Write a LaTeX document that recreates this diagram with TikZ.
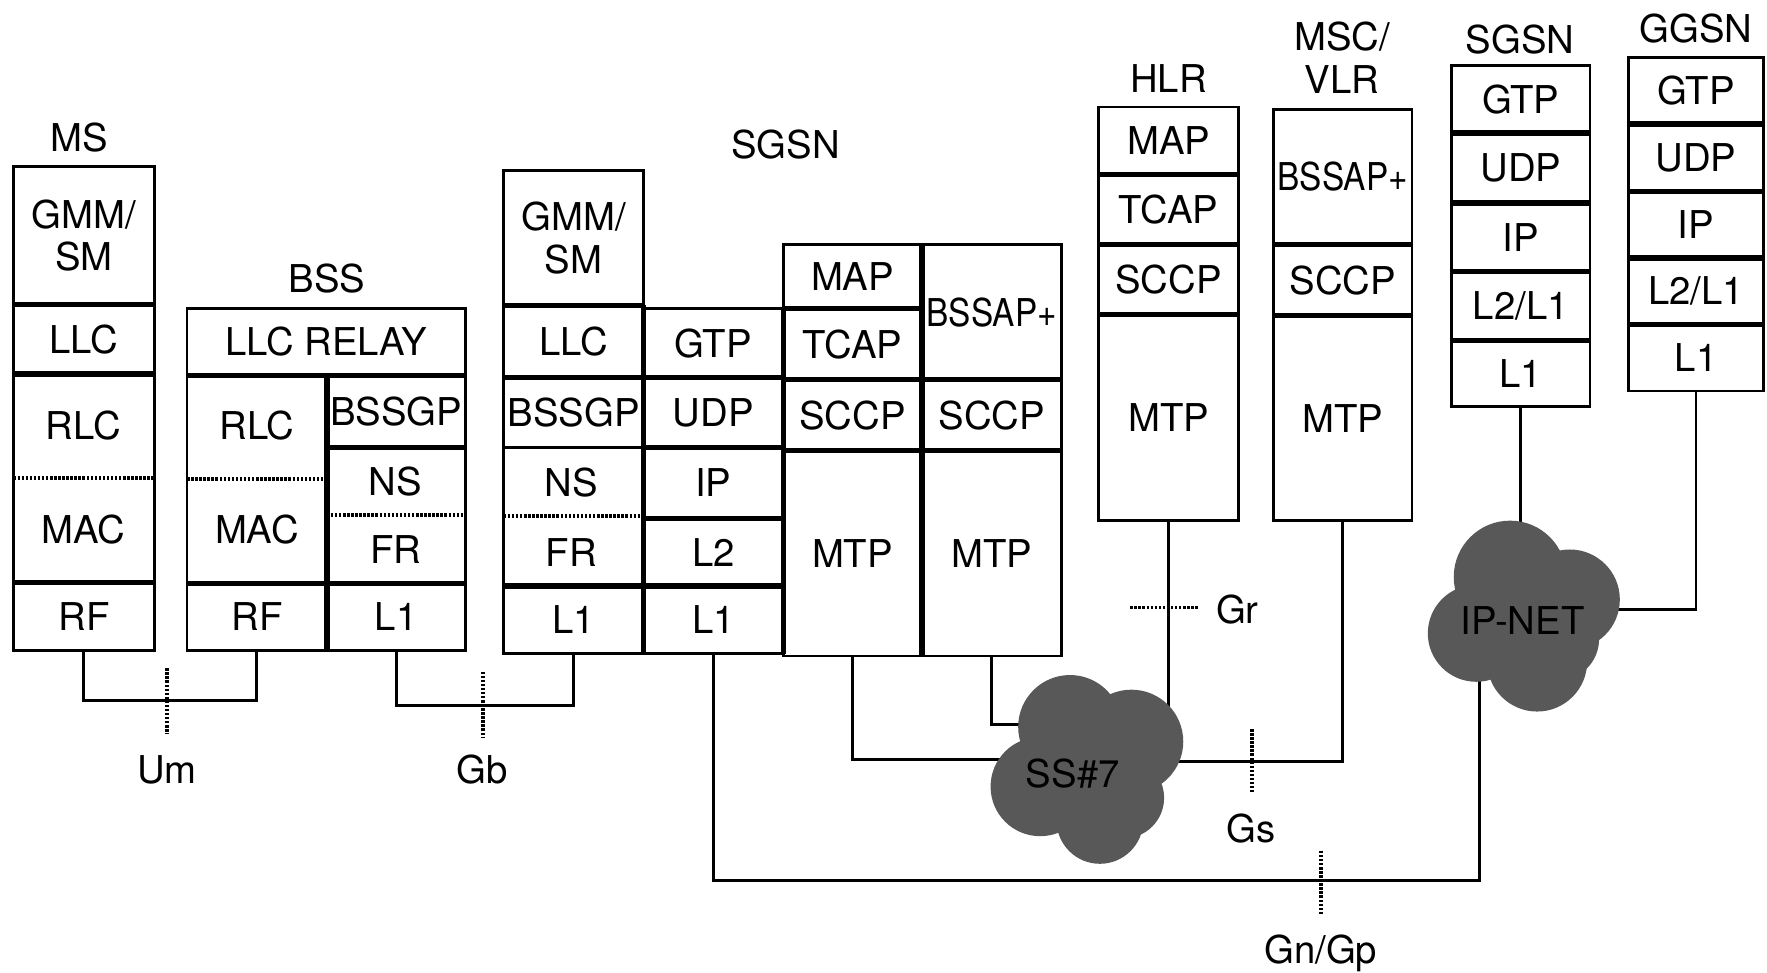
\documentclass[tikz,border=0pt]{standalone}
\usepackage{fontspec}
\setmainfont{TeX Gyre Heros}
\usetikzlibrary{calc}
\pgfdeclarelayer{bg}
\pgfdeclarelayer{cloudlayer}
\pgfsetlayers{bg,cloudlayer,main}
\definecolor{cloudgray}{RGB}{88,88,88}
\tikzset{
  cellbox/.style={draw, line width=1.2pt, inner sep=0pt, outer sep=0pt, align=center, font=\fontsize{17}{19}\selectfont},
  txt/.style={inner sep=0pt, outer sep=0pt, font=\fontsize{17}{19}\selectfont, align=center},
  sepline/.style={line width=2.4pt},
  divider/.style={line width=1.6pt, dash pattern=on 1.1pt off 0.7pt},
  conn/.style={line width=1.3pt},
  ticksty/.style={line width=1.6pt, dash pattern=on 1.1pt off 0.7pt},
  cloudfill/.style={fill=cloudgray},
}
\newcommand{\lcell}[6]{%
  \pgfmathsetmacro{\lcw}{(#4-#2)*0.5}%
  \pgfmathsetmacro{\lch}{(#5-#3)*0.5}%
  \node[cellbox, minimum width=\lcw pt, minimum height=\lch pt] (#1) at ({(#2+#4)/2},{(#3+#5)/2}) {#6};%
}
\newcommand{\sepN}[1]{\draw[sepline] (#1.north west) -- (#1.north east);}
\begin{document}
\begin{tikzpicture}[x=0.5pt,y=-0.5pt]
\useasboundingbox (0,0) rectangle (1568,863);

% ---------- MS ----------
\node[txt] (mslab) at (70,122) {MS};
\lcell{msgmm}{12}{148}{137}{270}{GMM/\\SM}
\lcell{msllc}{12}{270}{137}{332}{LLC}
\lcell{msrm}{12}{332}{137}{517}{}
\lcell{msrf}{12}{517}{137}{577}{RF}
\node[txt] (msrlc) at (74,378) {RLC};
\node[txt] (msmac) at (74,470) {MAC};
\draw[divider] (12,424) -- (137,424);
\sepN{msllc}\sepN{msrm}\sepN{msrf}

% ---------- BSS ----------
\node[txt] (bsslab) at (290,247) {BSS};
\lcell{bssrelay}{166}{274}{413}{333}{LLC RELAY}
\lcell{bssrm}{166}{333}{290}{518}{}
\lcell{bssgp}{290}{333}{413}{397}{BSSGP}
\lcell{bssnf}{290}{397}{413}{518}{}
\lcell{bssrf}{166}{518}{290}{577}{RF}
\lcell{bssl1}{290}{518}{413}{577}{L1}
\node[txt] (bssrlc) at (228,378) {RLC};
\node[txt] (bssmac) at (228,470) {MAC};
\node[txt] (bssns) at (351,427) {NS};
\node[txt] (bssfr) at (351,488) {FR};
\draw[divider] (166,425) -- (290,425);
\draw[divider] (290,457) -- (413,457);
\draw[sepline] (bssrm.north west) -- (bssgp.north east);
\sepN{bssnf}
\draw[sepline] (bssrf.north west) -- (bssl1.north east);
\draw[sepline] (bssgp.north west) -- (bssl1.south west);

% ---------- SGSN (main) ----------
\node[txt] (sglab) at (697,128) {SGSN};
\lcell{sgmm}{447}{151}{571}{271}{GMM/\\SM}
\lcell{sgllc}{447}{271}{571}{335}{LLC}
\lcell{sgbssgp}{447}{335}{571}{397}{BSSGP}
\lcell{sgnf}{447}{397}{571}{520}{}
\lcell{sgl1a}{447}{520}{571}{580}{L1}
\node[txt] (sgns) at (507,428) {NS};
\node[txt] (sgfr) at (507,490) {FR};
\draw[divider] (447,458) -- (571,458);
\lcell{sggtp}{571}{274}{695}{335}{GTP}
\lcell{sgudp}{571}{335}{695}{397}{UDP}
\lcell{sgip}{571}{397}{695}{460}{IP}
\lcell{sgl2}{571}{460}{695}{520}{L2}
\lcell{sgl1b}{571}{520}{695}{580}{L1}
\lcell{sgmap}{695}{217}{818}{274}{MAP}
\lcell{sgtcap}{695}{274}{818}{337}{TCAP}
\lcell{sgsccpa}{695}{337}{818}{400}{SCCP}
\lcell{sgmtpa}{695}{400}{818}{582}{MTP}
\lcell{sgbssap}{818}{217}{942}{337}{\scalebox{0.87}[1]{BSSAP+}}
\lcell{sgsccpb}{818}{337}{942}{400}{SCCP}
\lcell{sgmtpb}{818}{400}{942}{582}{MTP}
\sepN{sgllc}\sepN{sgbssgp}\sepN{sgl1a}
\draw[sepline] (447,271) -- (571,271);
\sepN{sgudp}\sepN{sgip}\sepN{sgl2}\sepN{sgl1b}
\sepN{sgtcap}\sepN{sgsccpa}\sepN{sgmtpa}
\sepN{sgsccpb}\sepN{sgmtpb}
\draw[sepline] (sgllc.north east) -- (sgl1a.south east);
\draw[sepline] (sggtp.north east) -- (sgl1b.south east);
\draw[sepline] (sgmap.north east) -- (sgmtpa.south east);

% ---------- HLR ----------
\node[txt] (hlrlab) at (1037,70) {HLR};
\lcell{hmap}{975}{95}{1099}{155}{MAP}
\lcell{htcap}{975}{155}{1099}{217}{TCAP}
\lcell{hsccp}{975}{217}{1099}{279}{SCCP}
\lcell{hmtp}{975}{279}{1099}{462}{MTP}
\sepN{htcap}\sepN{hsccp}\sepN{hmtp}

% ---------- MSC/VLR ----------
\node[txt] (msclab) at (1191,51) {MSC/\\VLR};
\lcell{mbssap}{1130}{97}{1253}{217}{\scalebox{0.87}[1]{BSSAP+}}
\lcell{msccp}{1130}{217}{1253}{280}{SCCP}
\lcell{mmtp}{1130}{280}{1253}{462}{MTP}
\sepN{msccp}\sepN{mmtp}

% ---------- SGSN (right) ----------
\node[txt] (sgrlab) at (1349,35) {SGSN};
\lcell{sgrgtp}{1288}{58}{1411}{118}{GTP}
\lcell{sgrudp}{1288}{118}{1411}{180}{UDP}
\lcell{sgrip}{1288}{180}{1411}{241}{IP}
\lcell{sgrl2}{1288}{241}{1411}{302}{L2/L1}
\lcell{sgrl1}{1288}{302}{1411}{361}{L1}
\sepN{sgrudp}\sepN{sgrip}\sepN{sgrl2}\sepN{sgrl1}

% ---------- GGSN ----------
\node[txt] (gglab) at (1505,25) {GGSN};
\lcell{gggtp}{1445}{51}{1565}{110}{GTP}
\lcell{ggudp}{1445}{110}{1565}{170}{UDP}
\lcell{ggip}{1445}{170}{1565}{229}{IP}
\lcell{ggl2}{1445}{229}{1565}{288}{L2/L1}
\lcell{ggl1}{1445}{288}{1565}{347}{L1}
\sepN{ggudp}\sepN{ggip}\sepN{ggl2}\sepN{ggl1}

% ---------- clouds (text nodes) ----------
\node[txt] (ss7) at (952,686) {SS\#7};
\node[txt] (ipnet) at (1351,551) {IP-NET};
\coordinate (ss7w) at (940,674);
\coordinate (ss7nw) at (940,643);
\coordinate (ss7e) at (1000,676);
\coordinate (ipe) at (1390,541);
\coordinate (gncorner) at (1313,781);
\coordinate (gnend) at (1313,590);

\begin{pgfonlayer}{cloudlayer}
\fill[cloudfill] (949.5,645) circle[radius=23pt];
\fill[cloudfill] (1004,658) circle[radius=23pt];
\fill[cloudfill] (923,698) circle[radius=22pt];
\fill[cloudfill] (976,728) circle[radius=19.25pt];
\fill[cloudfill] (997,708) circle[radius=18pt];
\fill[cloudfill] (960,690) circle[radius=22.5pt];
\fill[cloudfill] (1340,512) circle[radius=25pt];
\fill[cloudfill] (1393,532) circle[radius=22.2pt];
\fill[cloudfill] (1310,562) circle[radius=21.5pt];
\fill[cloudfill] (1364,587) circle[radius=22.2pt];
\fill[cloudfill] (1382,567) circle[radius=18.5pt];
\fill[cloudfill] (1350,550) circle[radius=22.5pt];
\end{pgfonlayer}

% ---------- connectors ----------
\begin{pgfonlayer}{bg}
\draw[conn] (msrf.south) -- ++(0,45) -| (bssrf.south);
\draw[conn] (bssl1.south) -- ++(0,49) -| (sgl1a.south);
\draw[conn] (sgl1b.south) |- (gncorner) -- (gnend);
\draw[conn] (sgmtpa.south) |- (ss7w);
\draw[conn] (sgmtpb.south) |- (ss7nw);
\draw[conn] (hmtp.south) -- (hmtp.south |- ss7);
\draw[conn] (mmtp.south) |- (ss7e);
\draw[conn] (sgrl1.south) -- (sgrl1.south |- ipnet);
\draw[conn] (ggl1.south) |- (ipe);
\end{pgfonlayer}

% ---------- interface ticks and labels ----------
\coordinate (umt) at (148,593); \coordinate (umb) at (148,651);
\draw[ticksty] (umt) -- (umb);
\node[txt] (um) at (148,683) {Um};
\coordinate (gbt) at (428.5,596); \coordinate (gbb) at (428.5,655);
\draw[ticksty] (gbt) -- (gbb);
\node[txt] (gb) at (428,683) {Gb};
\coordinate (grl) at (1003,539); \coordinate (grr) at (1064,539);
\draw[ticksty] (grl) -- (grr);
\node[txt] (gr) at (1098,541) {Gr};
\coordinate (gst) at (1111,647); \coordinate (gsb) at (1111,704);
\draw[ticksty] (gst) -- (gsb);
\node[txt] (gs) at (1110,735) {Gs};
\coordinate (gnt) at (1172,755); \coordinate (gnb) at (1172,812);
\draw[ticksty] (gnt) -- (gnb);
\node[txt] (gngp) at (1172,846) {Gn/Gp};
\end{tikzpicture}
\end{document}
